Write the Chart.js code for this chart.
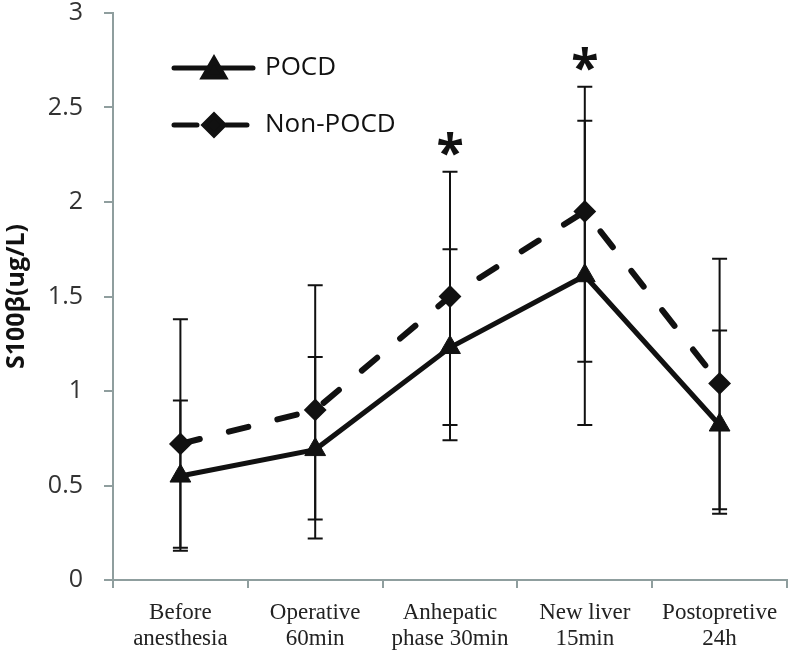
<!DOCTYPE html>
<html>
<head>
<meta charset="utf-8">
<script src="https://cdn.jsdelivr.net/npm/chart.js@4.4.0/dist/chart.umd.min.js"></script>
<style>
  html, body { margin: 0; padding: 0; background: #fff; }
</style>
</head>
<body>
<canvas id="myChart" width="800" height="652"></canvas>
<script>
const labels = [['Before', 'anesthesia'], ['Operative', '60min'], ['Anhepatic', 'phase 30min'], ['New liver', '15min'], ['Postopretive', '24h']];
const pocd = [0.55, 0.69, 1.23, 1.61, 0.82];
const pocdLow = [0.155, 0.22, 0.74, 0.82, 0.35];
const pocdHigh = [0.95, 1.18, 1.75, 2.43, 1.32];
const nonPocd = [0.72, 0.90, 1.50, 1.95, 1.04];
const nonPocdLow = [0.17, 0.32, 0.82, 1.155, 0.375];
const nonPocdHigh = [1.38, 1.56, 2.16, 2.61, 1.70];
const significant = [false, false, true, true, false];
const yTicks = [0, 0.5, 1, 1.5, 2, 2.5, 3];

const axisColor = '#8f9e9e';
const ink = '#111';

// error bars + asterisks, drawn under the lines
const errorBars = {
  id: 'errorBars',
  beforeDatasetsDraw(chart) {
    const ctx = chart.ctx;
    const x = chart.scales.x, y = chart.scales.y;
    ctx.save();
    ctx.strokeStyle = ink;
    ctx.lineWidth = 2;
    [[pocdLow, pocdHigh], [nonPocdLow, nonPocdHigh]].forEach(([lo, hi]) => {
      lo.forEach((v, i) => {
        const px = x.getPixelForValue(i);
        const y1 = y.getPixelForValue(v);
        const y2 = y.getPixelForValue(hi[i]);
        ctx.beginPath();
        ctx.moveTo(px, y1); ctx.lineTo(px, y2);
        ctx.moveTo(px - 7.5, y1); ctx.lineTo(px + 7.5, y1);
        ctx.moveTo(px - 7.5, y2); ctx.lineTo(px + 7.5, y2);
        ctx.stroke();
      });
    });
    ctx.fillStyle = ink;
    ctx.font = 'bold 50px "Open Sans"';
    ctx.textAlign = 'center';
    ctx.textBaseline = 'alphabetic';
    significant.forEach((s, i) => {
      if (!s) return;
      const top = y.getPixelForValue(Math.max(pocdHigh[i], nonPocdHigh[i]));
      ctx.fillText('*', x.getPixelForValue(i), top - 30 + 0.56 * 50);
    });
    ctx.restore();
  }
};

// legend in the top-left of the plot
const legendBox = {
  id: 'legendBox',
  afterDatasetsDraw(chart) {
    const ctx = chart.ctx;
    chart.data.datasets.forEach((ds, i) => {
      const yy = 68 + i * 57;
      ctx.save();
      ctx.strokeStyle = ds.borderColor;
      ctx.fillStyle = ds.backgroundColor;
      ctx.lineWidth = 5;
      ctx.lineCap = 'round';
      ctx.beginPath();
      if (ds.borderDash) {
        ctx.moveTo(174, yy); ctx.lineTo(197, yy);
        ctx.moveTo(226, yy); ctx.lineTo(247, yy);
      } else {
        ctx.moveTo(174, yy); ctx.lineTo(253, yy);
      }
      ctx.stroke();
      ctx.lineCap = 'butt';
      Chart.helpers.drawPoint(ctx, { pointStyle: ds.pointStyle, radius: ds.pointRadius, borderWidth: 1, rotation: 0 }, 214, yy + (ds.pointStyle === 'triangle' ? 3 : 0));
      ctx.fillStyle = ink;
      ctx.font = '26px "Open Sans"';
      ctx.textAlign = 'left';
      ctx.textBaseline = 'middle';
      ctx.fillText(ds.label, 265, yy);
      ctx.restore();
    });
  }
};

new Chart(document.getElementById('myChart'), {
  type: 'line',
  data: {
    labels: labels,
    datasets: [{
      label: 'POCD',
      data: pocd,
      borderColor: ink,
      backgroundColor: ink,
      borderWidth: 5,
      pointStyle: 'triangle',
      pointRadius: 12,
      pointBorderWidth: 1,
      tension: 0
    }, {
      label: 'Non-POCD',
      data: nonPocd,
      borderColor: ink,
      backgroundColor: ink,
      borderWidth: 6,
      borderDash: [20, 30],
      borderCapStyle: 'round',
      pointStyle: 'rectRot',
      pointRadius: 10,
      pointBorderWidth: 2,
      tension: 0
    }]
  },
  options: {
    responsive: false,
    animation: false,
    layout: { padding: { top: 13, right: 2, left: 0, bottom: 0 } },
    plugins: {
      legend: { display: false },
      tooltip: { enabled: false }
    },
    scales: {
      x: {
        offset: true,
        grid: { offset: true, drawOnChartArea: false, tickLength: 8, color: axisColor, lineWidth: 2 },
        border: { color: axisColor, width: 2 },
        ticks: {
          color: '#222',
          padding: 12,
          maxRotation: 0,
          autoSkip: false,
          font: { family: '"Liberation Serif", serif', size: 23, lineHeight: 1.13 }
        },
        afterFit(scale) { scale.height = 72; }
      },
      y: {
        min: 0,
        max: 3,
        afterBuildTicks(scale) { scale.ticks = yTicks.map(v => ({ value: v })); },
        grid: { drawOnChartArea: false, tickLength: 9, color: axisColor, lineWidth: 2 },
        border: { color: axisColor, width: 2 },
        ticks: {
          color: '#333',
          padding: 21,
          font: { family: '"Open Sans"', size: 25 },
          callback: v => String(v)
        },
        title: {
          display: true,
          text: 'S100β(ug/L)',
          color: ink,
          padding: { top: 2, bottom: 0 },
          font: { family: '"Open Sans"', size: 25, weight: 'bold' }
        },
        afterFit(scale) {
          scale.width = 113;
          scale.paddingTop = 0;
          scale.paddingBottom = 0;
        }
      }
    }
  },
  plugins: [errorBars, legendBox]
});
</script>
</body>
</html>
